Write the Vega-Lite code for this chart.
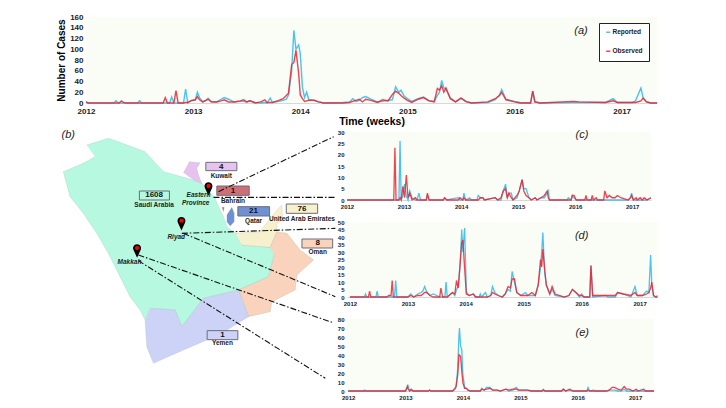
{
"$schema":"https://vega.github.io/schema/vega-lite/v6.json",
"background":"white",
"padding":{"left":56,"top":13,"right":0,"bottom":0},
"bounds":"flush",
"spacing":29,
"config":{"font":"Liberation Sans","range":{"category":["#2bb8ea","#f2202e"]},"axis":{"grid":false,"ticks":false,"domainColor":"#d8d8d8","labelFontWeight":"bold","labelColor":"#222","labelPadding":3,"labelFlush":false},"concat":{"spacing":10}},
"datasets":{
"a":[
{"t":2012.0,"Reported":1,"Observed":2},{"t":2012.02,"Reported":0,"Observed":0},{"t":2012.26,"Reported":0,"Observed":0},{"t":2012.28,"Reported":4,"Observed":0},{"t":2012.3,"Reported":0,"Observed":0},{"t":2012.31,"Reported":0,"Observed":0},{"t":2012.33,"Reported":0,"Observed":4},{"t":2012.35,"Reported":0,"Observed":1},{"t":2012.37,"Reported":0,"Observed":0},{"t":2012.48,"Reported":0,"Observed":0},{"t":2012.5,"Reported":4,"Observed":0},{"t":2012.52,"Reported":0,"Observed":0},{"t":2012.72,"Reported":0,"Observed":0},{"t":2012.74,"Reported":0,"Observed":10},{"t":2012.76,"Reported":0,"Observed":0},{"t":2012.78,"Reported":0,"Observed":0},{"t":2012.8,"Reported":11,"Observed":0},{"t":2012.82,"Reported":0,"Observed":0},{"t":2012.84,"Reported":0,"Observed":23},{"t":2012.86,"Reported":0,"Observed":0},{"t":2012.91,"Reported":0,"Observed":0},{"t":2012.93,"Reported":26,"Observed":1},{"t":2012.95,"Reported":0,"Observed":1},{"t":2012.98,"Reported":5,"Observed":4},{"t":2013.02,"Reported":6,"Observed":6},{"t":2013.04,"Reported":20,"Observed":12},{"t":2013.06,"Reported":10,"Observed":6},{"t":2013.09,"Reported":2,"Observed":2},{"t":2013.12,"Reported":5,"Observed":5},{"t":2013.14,"Reported":9,"Observed":7},{"t":2013.17,"Reported":3,"Observed":2},{"t":2013.22,"Reported":2,"Observed":2},{"t":2013.26,"Reported":7,"Observed":4},{"t":2013.29,"Reported":10,"Observed":6},{"t":2013.33,"Reported":7,"Observed":2},{"t":2013.38,"Reported":2,"Observed":2},{"t":2013.44,"Reported":3,"Observed":4},{"t":2013.47,"Reported":3,"Observed":6},{"t":2013.5,"Reported":2,"Observed":2},{"t":2013.53,"Reported":4,"Observed":4},{"t":2013.58,"Reported":1,"Observed":0},{"t":2013.63,"Reported":0,"Observed":2},{"t":2013.67,"Reported":1,"Observed":6},{"t":2013.69,"Reported":0,"Observed":1},{"t":2013.72,"Reported":9,"Observed":1},{"t":2013.74,"Reported":1,"Observed":1},{"t":2013.8,"Reported":3,"Observed":5},{"t":2013.84,"Reported":5,"Observed":8},{"t":2013.87,"Reported":7,"Observed":14},{"t":2013.89,"Reported":15,"Observed":18},{"t":2013.92,"Reported":60,"Observed":72},{"t":2013.94,"Reported":135,"Observed":75},{"t":2013.96,"Reported":100,"Observed":98},{"t":2013.985,"Reported":108,"Observed":55},{"t":2014.0,"Reported":92,"Observed":15},{"t":2014.02,"Reported":30,"Observed":8},{"t":2014.04,"Reported":10,"Observed":3},{"t":2014.06,"Reported":20,"Observed":4},{"t":2014.08,"Reported":6,"Observed":5},{"t":2014.13,"Reported":5,"Observed":5},{"t":2014.17,"Reported":2,"Observed":2},{"t":2014.22,"Reported":0,"Observed":0},{"t":2014.4,"Reported":1,"Observed":0},{"t":2014.46,"Reported":2,"Observed":1},{"t":2014.49,"Reported":8,"Observed":3},{"t":2014.52,"Reported":3,"Observed":5},{"t":2014.55,"Reported":5,"Observed":7},{"t":2014.58,"Reported":10,"Observed":2},{"t":2014.61,"Reported":12,"Observed":7},{"t":2014.66,"Reported":7,"Observed":5},{"t":2014.72,"Reported":2,"Observed":1},{"t":2014.77,"Reported":3,"Observed":6},{"t":2014.82,"Reported":5,"Observed":4},{"t":2014.86,"Reported":6,"Observed":16},{"t":2014.89,"Reported":30,"Observed":22},{"t":2014.92,"Reported":20,"Observed":18},{"t":2014.94,"Reported":24,"Observed":14},{"t":2014.97,"Reported":13,"Observed":9},{"t":2015.0,"Reported":8,"Observed":5},{"t":2015.04,"Reported":3,"Observed":1},{"t":2015.1,"Reported":8,"Observed":7},{"t":2015.15,"Reported":11,"Observed":10},{"t":2015.2,"Reported":5,"Observed":4},{"t":2015.25,"Reported":3,"Observed":2},{"t":2015.28,"Reported":14,"Observed":27},{"t":2015.3,"Reported":20,"Observed":24},{"t":2015.32,"Reported":42,"Observed":32},{"t":2015.34,"Reported":28,"Observed":20},{"t":2015.36,"Reported":26,"Observed":28},{"t":2015.4,"Reported":10,"Observed":8},{"t":2015.45,"Reported":2,"Observed":2},{"t":2015.5,"Reported":9,"Observed":9},{"t":2015.55,"Reported":3,"Observed":2},{"t":2015.6,"Reported":0,"Observed":0},{"t":2015.75,"Reported":1,"Observed":2},{"t":2015.82,"Reported":6,"Observed":8},{"t":2015.86,"Reported":15,"Observed":14},{"t":2015.88,"Reported":25,"Observed":20},{"t":2015.92,"Reported":7,"Observed":6},{"t":2016.0,"Reported":3,"Observed":2},{"t":2016.05,"Reported":1,"Observed":0},{"t":2016.15,"Reported":0,"Observed":0},{"t":2016.17,"Reported":22,"Observed":22},{"t":2016.19,"Reported":2,"Observed":2},{"t":2016.24,"Reported":0,"Observed":0},{"t":2016.55,"Reported":1,"Observed":3},{"t":2016.6,"Reported":1,"Observed":2},{"t":2016.85,"Reported":1,"Observed":1},{"t":2016.92,"Reported":8,"Observed":4},{"t":2016.96,"Reported":1,"Observed":1},{"t":2017.1,"Reported":1,"Observed":1},{"t":2017.13,"Reported":4,"Observed":1},{"t":2017.18,"Reported":28,"Observed":4},{"t":2017.2,"Reported":10,"Observed":9},{"t":2017.23,"Reported":3,"Observed":2},{"t":2017.27,"Reported":0,"Observed":0},{"t":2017.33,"Reported":0,"Observed":0}],
"c":[
{"t":2012.0,"Reported":0,"Observed":0},{"t":2012.82,"Reported":0,"Observed":0},{"t":2012.84,"Reported":0,"Observed":23},{"t":2012.86,"Reported":0,"Observed":0},{"t":2012.91,"Reported":0,"Observed":0},{"t":2012.93,"Reported":26,"Observed":1},{"t":2012.95,"Reported":0,"Observed":0},{"t":2012.98,"Reported":2,"Observed":6},{"t":2013.01,"Reported":7,"Observed":1},{"t":2013.04,"Reported":2,"Observed":11},{"t":2013.07,"Reported":0,"Observed":1},{"t":2013.1,"Reported":4,"Observed":3},{"t":2013.14,"Reported":1,"Observed":0},{"t":2013.2,"Reported":0,"Observed":1},{"t":2013.23,"Reported":0,"Observed":0},{"t":2013.26,"Reported":3,"Observed":0},{"t":2013.29,"Reported":0,"Observed":0},{"t":2013.39,"Reported":0,"Observed":0},{"t":2013.41,"Reported":2,"Observed":3},{"t":2013.44,"Reported":0,"Observed":0},{"t":2013.69,"Reported":0,"Observed":0},{"t":2013.71,"Reported":1,"Observed":1},{"t":2013.75,"Reported":0,"Observed":0},{"t":2013.95,"Reported":1,"Observed":0},{"t":2013.98,"Reported":0,"Observed":1},{"t":2014.03,"Reported":0,"Observed":0},{"t":2014.05,"Reported":3,"Observed":1},{"t":2014.08,"Reported":0,"Observed":0},{"t":2014.15,"Reported":1,"Observed":0},{"t":2014.18,"Reported":0,"Observed":0},{"t":2014.28,"Reported":0,"Observed":0},{"t":2014.3,"Reported":2,"Observed":0},{"t":2014.34,"Reported":1,"Observed":1},{"t":2014.38,"Reported":1,"Observed":1},{"t":2014.41,"Reported":0,"Observed":0},{"t":2014.6,"Reported":1,"Observed":1},{"t":2014.64,"Reported":0,"Observed":0},{"t":2014.7,"Reported":0,"Observed":1},{"t":2014.74,"Reported":4,"Observed":4},{"t":2014.78,"Reported":7,"Observed":5},{"t":2014.81,"Reported":1,"Observed":1},{"t":2014.84,"Reported":3,"Observed":3},{"t":2014.88,"Reported":3,"Observed":1},{"t":2014.91,"Reported":0,"Observed":0},{"t":2014.98,"Reported":1,"Observed":2},{"t":2015.02,"Reported":4,"Observed":4},{"t":2015.07,"Reported":9,"Observed":9},{"t":2015.1,"Reported":5,"Observed":4},{"t":2015.14,"Reported":5,"Observed":2},{"t":2015.19,"Reported":1,"Observed":1},{"t":2015.23,"Reported":0,"Observed":0},{"t":2015.3,"Reported":1,"Observed":1},{"t":2015.33,"Reported":0,"Observed":0},{"t":2015.4,"Reported":1,"Observed":1},{"t":2015.46,"Reported":1,"Observed":2},{"t":2015.51,"Reported":3,"Observed":4},{"t":2015.53,"Reported":4,"Observed":1},{"t":2015.55,"Reported":0,"Observed":0},{"t":2015.86,"Reported":0,"Observed":0},{"t":2015.88,"Reported":1,"Observed":0},{"t":2015.93,"Reported":0,"Observed":0},{"t":2015.95,"Reported":2,"Observed":2},{"t":2015.98,"Reported":1,"Observed":2},{"t":2016.02,"Reported":0,"Observed":0},{"t":2016.17,"Reported":0,"Observed":0},{"t":2016.19,"Reported":0,"Observed":2},{"t":2016.21,"Reported":0,"Observed":0},{"t":2016.28,"Reported":0,"Observed":0},{"t":2016.3,"Reported":0,"Observed":2},{"t":2016.32,"Reported":0,"Observed":0},{"t":2016.37,"Reported":0,"Observed":1},{"t":2016.39,"Reported":0,"Observed":0},{"t":2016.5,"Reported":0,"Observed":0},{"t":2016.52,"Reported":0,"Observed":4},{"t":2016.56,"Reported":0,"Observed":1},{"t":2016.6,"Reported":0,"Observed":2},{"t":2016.65,"Reported":0,"Observed":1},{"t":2016.7,"Reported":0,"Observed":1},{"t":2016.74,"Reported":0,"Observed":2},{"t":2016.8,"Reported":0,"Observed":1},{"t":2016.93,"Reported":0,"Observed":0},{"t":2016.97,"Reported":1,"Observed":1},{"t":2016.99,"Reported":3,"Observed":2},{"t":2017.02,"Reported":0,"Observed":0},{"t":2017.07,"Reported":0,"Observed":1},{"t":2017.09,"Reported":0,"Observed":0},{"t":2017.14,"Reported":0,"Observed":1},{"t":2017.18,"Reported":0,"Observed":0},{"t":2017.21,"Reported":0,"Observed":1},{"t":2017.26,"Reported":0,"Observed":0},{"t":2017.33,"Reported":1,"Observed":1}],
"d":[
{"t":2012.0,"Reported":0,"Observed":0},{"t":2012.25,"Reported":0,"Observed":0},{"t":2012.27,"Reported":2,"Observed":0},{"t":2012.29,"Reported":0,"Observed":0},{"t":2012.32,"Reported":0,"Observed":0},{"t":2012.34,"Reported":0,"Observed":4},{"t":2012.36,"Reported":0,"Observed":0},{"t":2012.45,"Reported":0,"Observed":0},{"t":2012.47,"Reported":4,"Observed":0},{"t":2012.49,"Reported":0,"Observed":0},{"t":2012.64,"Reported":0,"Observed":0},{"t":2012.67,"Reported":0,"Observed":1},{"t":2012.71,"Reported":0,"Observed":1},{"t":2012.73,"Reported":0,"Observed":11},{"t":2012.75,"Reported":0,"Observed":0},{"t":2012.77,"Reported":0,"Observed":0},{"t":2012.79,"Reported":11,"Observed":0},{"t":2012.81,"Reported":0,"Observed":0},{"t":2013.0,"Reported":0,"Observed":0},{"t":2013.05,"Reported":2,"Observed":1},{"t":2013.1,"Reported":0,"Observed":0},{"t":2013.17,"Reported":2,"Observed":1},{"t":2013.23,"Reported":3,"Observed":1},{"t":2013.26,"Reported":4,"Observed":2},{"t":2013.29,"Reported":7,"Observed":3},{"t":2013.33,"Reported":3,"Observed":3},{"t":2013.38,"Reported":1,"Observed":1},{"t":2013.44,"Reported":2,"Observed":0},{"t":2013.5,"Reported":1,"Observed":0},{"t":2013.55,"Reported":0,"Observed":0},{"t":2013.57,"Reported":0,"Observed":6},{"t":2013.6,"Reported":0,"Observed":0},{"t":2013.64,"Reported":0,"Observed":0},{"t":2013.66,"Reported":10,"Observed":0},{"t":2013.68,"Reported":0,"Observed":0},{"t":2013.74,"Reported":2,"Observed":2},{"t":2013.77,"Reported":3,"Observed":3},{"t":2013.81,"Reported":1,"Observed":2},{"t":2013.84,"Reported":5,"Observed":11},{"t":2013.87,"Reported":7,"Observed":6},{"t":2013.9,"Reported":20,"Observed":21},{"t":2013.93,"Reported":45,"Observed":36},{"t":2013.95,"Reported":30,"Observed":38},{"t":2013.98,"Reported":46,"Observed":19},{"t":2014.01,"Reported":3,"Observed":2},{"t":2014.06,"Reported":1,"Observed":1},{"t":2014.13,"Reported":2,"Observed":2},{"t":2014.17,"Reported":0,"Observed":0},{"t":2014.23,"Reported":0,"Observed":0},{"t":2014.25,"Reported":2,"Observed":0},{"t":2014.27,"Reported":0,"Observed":0},{"t":2014.34,"Reported":3,"Observed":0},{"t":2014.37,"Reported":0,"Observed":0},{"t":2014.43,"Reported":1,"Observed":1},{"t":2014.46,"Reported":7,"Observed":3},{"t":2014.5,"Reported":3,"Observed":2},{"t":2014.56,"Reported":1,"Observed":1},{"t":2014.63,"Reported":0,"Observed":0},{"t":2014.68,"Reported":2,"Observed":2},{"t":2014.73,"Reported":5,"Observed":7},{"t":2014.77,"Reported":4,"Observed":6},{"t":2014.8,"Reported":17,"Observed":12},{"t":2014.84,"Reported":10,"Observed":12},{"t":2014.88,"Reported":3,"Observed":3},{"t":2014.95,"Reported":1,"Observed":1},{"t":2015.03,"Reported":3,"Observed":1},{"t":2015.07,"Reported":1,"Observed":1},{"t":2015.14,"Reported":1,"Observed":3},{"t":2015.2,"Reported":1,"Observed":1},{"t":2015.25,"Reported":8,"Observed":8},{"t":2015.29,"Reported":20,"Observed":25},{"t":2015.31,"Reported":30,"Observed":20},{"t":2015.33,"Reported":43,"Observed":32},{"t":2015.36,"Reported":17,"Observed":19},{"t":2015.39,"Reported":8,"Observed":8},{"t":2015.45,"Reported":2,"Observed":2},{"t":2015.49,"Reported":5,"Observed":7},{"t":2015.54,"Reported":1,"Observed":2},{"t":2015.7,"Reported":0,"Observed":0},{"t":2015.78,"Reported":1,"Observed":1},{"t":2015.84,"Reported":5,"Observed":5},{"t":2015.9,"Reported":3,"Observed":3},{"t":2015.96,"Reported":0,"Observed":1},{"t":2016.0,"Reported":2,"Observed":1},{"t":2016.04,"Reported":0,"Observed":0},{"t":2016.14,"Reported":0,"Observed":0},{"t":2016.16,"Reported":21,"Observed":21},{"t":2016.19,"Reported":0,"Observed":1},{"t":2016.42,"Reported":1,"Observed":1},{"t":2016.45,"Reported":0,"Observed":1},{"t":2016.58,"Reported":0,"Observed":1},{"t":2016.62,"Reported":3,"Observed":3},{"t":2016.72,"Reported":2,"Observed":2},{"t":2016.85,"Reported":0,"Observed":1},{"t":2016.92,"Reported":7,"Observed":3},{"t":2016.96,"Reported":1,"Observed":1},{"t":2017.05,"Reported":1,"Observed":1},{"t":2017.12,"Reported":4,"Observed":2},{"t":2017.16,"Reported":3,"Observed":3},{"t":2017.19,"Reported":28,"Observed":6},{"t":2017.21,"Reported":8,"Observed":10},{"t":2017.24,"Reported":1,"Observed":1},{"t":2017.28,"Reported":0,"Observed":0},{"t":2017.31,"Reported":1,"Observed":0}],
"e":[
{"t":2012.0,"Reported":0,"Observed":0},{"t":2012.27,"Reported":0,"Observed":0},{"t":2012.29,"Reported":1,"Observed":0},{"t":2012.31,"Reported":0,"Observed":0},{"t":2013.0,"Reported":0,"Observed":0},{"t":2013.03,"Reported":3,"Observed":5},{"t":2013.04,"Reported":7,"Observed":3},{"t":2013.07,"Reported":0,"Observed":0},{"t":2013.1,"Reported":1,"Observed":2},{"t":2013.13,"Reported":0,"Observed":0},{"t":2013.4,"Reported":0,"Observed":0},{"t":2013.42,"Reported":1,"Observed":1},{"t":2013.44,"Reported":0,"Observed":0},{"t":2013.82,"Reported":0,"Observed":0},{"t":2013.86,"Reported":2,"Observed":3},{"t":2013.88,"Reported":4,"Observed":5},{"t":2013.91,"Reported":25,"Observed":18},{"t":2013.93,"Reported":60,"Observed":40},{"t":2013.94,"Reported":70,"Observed":40},{"t":2013.96,"Reported":50,"Observed":38},{"t":2013.98,"Reported":46,"Observed":22},{"t":2014.0,"Reported":18,"Observed":9},{"t":2014.03,"Reported":4,"Observed":3},{"t":2014.06,"Reported":3,"Observed":3},{"t":2014.09,"Reported":1,"Observed":1},{"t":2014.13,"Reported":0,"Observed":0},{"t":2014.3,"Reported":0,"Observed":0},{"t":2014.33,"Reported":3,"Observed":2},{"t":2014.37,"Reported":1,"Observed":1},{"t":2014.41,"Reported":4,"Observed":2},{"t":2014.47,"Reported":4,"Observed":3},{"t":2014.52,"Reported":1,"Observed":1},{"t":2014.6,"Reported":1,"Observed":1},{"t":2014.65,"Reported":0,"Observed":0},{"t":2014.75,"Reported":2,"Observed":2},{"t":2014.8,"Reported":0,"Observed":1},{"t":2014.87,"Reported":1,"Observed":2},{"t":2014.93,"Reported":4,"Observed":2},{"t":2014.97,"Reported":1,"Observed":1},{"t":2015.05,"Reported":1,"Observed":1},{"t":2015.12,"Reported":1,"Observed":1},{"t":2015.2,"Reported":0,"Observed":0},{"t":2015.38,"Reported":0,"Observed":0},{"t":2015.4,"Reported":2,"Observed":1},{"t":2015.43,"Reported":0,"Observed":0},{"t":2015.72,"Reported":0,"Observed":0},{"t":2015.75,"Reported":2,"Observed":2},{"t":2015.79,"Reported":0,"Observed":0},{"t":2015.86,"Reported":1,"Observed":2},{"t":2015.92,"Reported":0,"Observed":0},{"t":2016.16,"Reported":0,"Observed":0},{"t":2016.18,"Reported":4,"Observed":1},{"t":2016.21,"Reported":0,"Observed":0},{"t":2016.28,"Reported":1,"Observed":0},{"t":2016.31,"Reported":0,"Observed":0},{"t":2016.5,"Reported":0,"Observed":0},{"t":2016.55,"Reported":1,"Observed":1},{"t":2016.6,"Reported":1,"Observed":4},{"t":2016.64,"Reported":1,"Observed":4},{"t":2016.7,"Reported":0,"Observed":2},{"t":2016.76,"Reported":0,"Observed":1},{"t":2016.81,"Reported":2,"Observed":5},{"t":2016.85,"Reported":0,"Observed":2},{"t":2016.9,"Reported":0,"Observed":2},{"t":2016.96,"Reported":0,"Observed":0},{"t":2017.02,"Reported":0,"Observed":2},{"t":2017.05,"Reported":0,"Observed":0},{"t":2017.15,"Reported":0,"Observed":2},{"t":2017.18,"Reported":0,"Observed":0},{"t":2017.33,"Reported":0,"Observed":0}],
"regions":[
{"country":"Saudi Arabia","lon":35.3,"lat":32.125},{"country":"Saudi Arabia","lon":37.25,"lat":32.625},{"country":"Saudi Arabia","lon":38.15,"lat":32.375},{"country":"Saudi Arabia","lon":40.55,"lat":31.625},{"country":"Saudi Arabia","lon":42.2,"lat":30.125},{"country":"Saudi Arabia","lon":44.9,"lat":29.5},{"country":"Saudi Arabia","lon":45.65,"lat":29.25},{"country":"Saudi Arabia","lon":46.1,"lat":28.875},{"country":"Saudi Arabia","lon":46.85,"lat":28.125},{"country":"Saudi Arabia","lon":47.15,"lat":27.5},{"country":"Saudi Arabia","lon":47.6,"lat":26.75},{"country":"Saudi Arabia","lon":47.9,"lat":26},{"country":"Saudi Arabia","lon":48.65,"lat":25.5},{"country":"Saudi Arabia","lon":49.25,"lat":24.625},{"country":"Saudi Arabia","lon":51.8,"lat":24.45},{"country":"Saudi Arabia","lon":52.16,"lat":23.875},{"country":"Saudi Arabia","lon":51.65,"lat":22.25},{"country":"Saudi Arabia","lon":48.95,"lat":21.25},{"country":"Saudi Arabia","lon":45.8,"lat":20.625},{"country":"Saudi Arabia","lon":43.85,"lat":18.5},{"country":"Saudi Arabia","lon":43.25,"lat":19.75},{"country":"Saudi Arabia","lon":41,"lat":19.875},{"country":"Saudi Arabia","lon":40.55,"lat":19},{"country":"Saudi Arabia","lon":40.1,"lat":19.75},{"country":"Saudi Arabia","lon":39.2,"lat":20.75},{"country":"Saudi Arabia","lon":38.3,"lat":22.25},{"country":"Saudi Arabia","lon":37.25,"lat":24},{"country":"Saudi Arabia","lon":36.2,"lat":25.5},{"country":"Saudi Arabia","lon":35,"lat":27},{"country":"Saudi Arabia","lon":33.8,"lat":28.25},{"country":"Saudi Arabia","lon":33.2,"lat":30.125},{"country":"Saudi Arabia","lon":35,"lat":30.75},{"country":"Saudi Arabia","lon":36.05,"lat":31.25},
{"country":"Kuwait","lon":44,"lat":30.05},{"country":"Kuwait","lon":44.54,"lat":30.875},{"country":"Kuwait","lon":45.5,"lat":30.8},{"country":"Kuwait","lon":45.2,"lat":30.375},{"country":"Kuwait","lon":45.35,"lat":29.875},{"country":"Kuwait","lon":45.65,"lat":29.25},{"country":"Kuwait","lon":44.9,"lat":29.5},
{"country":"United Arab Emirates","lon":48.65,"lat":25.5},{"country":"United Arab Emirates","lon":50.9,"lat":25.625},{"country":"United Arab Emirates","lon":51.8,"lat":26.625},{"country":"United Arab Emirates","lon":52.55,"lat":27.375},{"country":"United Arab Emirates","lon":52.85,"lat":27.625},{"country":"United Arab Emirates","lon":52.91,"lat":26.5},{"country":"United Arab Emirates","lon":52.4,"lat":26.25},{"country":"United Arab Emirates","lon":52.4,"lat":25.625},{"country":"United Arab Emirates","lon":51.8,"lat":24.45},{"country":"United Arab Emirates","lon":49.25,"lat":24.625},
{"country":"Oman","lon":51.8,"lat":24.45},{"country":"Oman","lon":52.4,"lat":25.625},{"country":"Oman","lon":53.3,"lat":25.5},{"country":"Oman","lon":54.5,"lat":24.25},{"country":"Oman","lon":55.7,"lat":23.5},{"country":"Oman","lon":54.2,"lat":22.375},{"country":"Oman","lon":54.05,"lat":21.25},{"country":"Oman","lon":51.95,"lat":20.375},{"country":"Oman","lon":51.8,"lat":19.625},{"country":"Oman","lon":49.85,"lat":19.25},{"country":"Oman","lon":48.95,"lat":21.25},{"country":"Oman","lon":51.65,"lat":22.25},{"country":"Oman","lon":52.16,"lat":23.875},
{"country":"Yemen","lon":41,"lat":19.875},{"country":"Yemen","lon":43.25,"lat":19.75},{"country":"Yemen","lon":43.85,"lat":18.5},{"country":"Yemen","lon":45.8,"lat":20.625},{"country":"Yemen","lon":48.95,"lat":21.25},{"country":"Yemen","lon":49.85,"lat":19.25},{"country":"Yemen","lon":47.9,"lat":18.25},{"country":"Yemen","lon":46.1,"lat":17.5},{"country":"Yemen","lon":44,"lat":16.75},{"country":"Yemen","lon":41.3,"lat":15.75},{"country":"Yemen","lon":40.7,"lat":17},{"country":"Yemen","lon":40.55,"lat":19},
{"country":"Qatar","lon":47.9,"lat":26.875},{"country":"Qatar","lon":48.35,"lat":27.45},{"country":"Qatar","lon":48.56,"lat":27},{"country":"Qatar","lon":48.56,"lat":26.375},{"country":"Qatar","lon":48.2,"lat":26.05},{"country":"Qatar","lon":47.9,"lat":26.375},
{"country":"Bahrain","lon":47.45,"lat":27.45},{"country":"Bahrain","lon":47.66,"lat":27.45},{"country":"Bahrain","lon":47.6,"lat":27.125}],
"boxes":[
{"country":"Kuwait","cases":4,"lon1":46.01,"lon2":48.8,"lat1":30.825,"lat2":30.2,"clon":47.4,"clat":30.5,"nlat":29.825},
{"country":"Saudi Arabia","cases":1608,"lon1":40.04,"lon2":42.74,"lat1":28.675,"lat2":28,"clon":41.36,"clat":28.34,"nlat":27.625},
{"country":"Bahrain","cases":1,"lon1":47,"lon2":49.91,"lat1":29.05,"lat2":28.35,"clon":48.45,"clat":28.7,"nlat":27.925},
{"country":"Qatar","cases":21,"lon1":48.89,"lon2":51.74,"lat1":27.5,"lat2":26.8,"clon":50.3,"clat":27.15,"nlat":26.45},
{"country":"United Arab Emirates","cases":76,"lon1":53.24,"lon2":56.06,"lat1":27.7,"lat2":27,"clon":54.65,"clat":27.35,"nlat":26.6},
{"country":"Oman","cases":8,"lon1":54.65,"lon2":57.41,"lat1":25.075,"lat2":24.4,"clon":56.06,"clat":24.75,"nlat":24.1},
{"country":"Yemen","cases":1,"lon1":46.13,"lon2":48.89,"lat1":18.2,"lat2":17.525,"clon":47.5,"clat":17.87,"nlat":17.25}],
"links":[
{"link":"eastern-c","lon":47.15,"lat":28.625},{"link":"eastern-c","lon":57.5,"lat":32.75},
{"link":"eastern-flat","lon":46.7,"lat":28.2},{"link":"eastern-flat","lon":57.65,"lat":28.2},
{"link":"riyad-d","lon":43.85,"lat":25.5},{"link":"riyad-d","lon":57.65,"lat":25.875},
{"link":"riyad-low","lon":44,"lat":25.5},{"link":"riyad-low","lon":57.65,"lat":20.75},
{"link":"makkah-up","lon":39.95,"lat":23.875},{"link":"makkah-up","lon":57.35,"lat":18.825},
{"link":"makkah-low","lon":39.95,"lat":23.45},{"link":"makkah-low","lon":56.75,"lat":14.625}],
"pins":[{"name":"Eastern Province","lon":46.25,"lat":28.85},{"name":"Riyad","lon":43.82,"lat":26.25},{"name":"Makkah","lon":39.83,"lat":24.2},
{"name":"(b)","lon":33.65,"lat":32.875}],
"places":[{"name":"Eastern","lon":45.35,"lat":28.4},{"name":"Province","lon":45.1,"lat":27.8},{"name":"Riyad","lon":43.35,"lat":25.2},{"name":"Makkah","lon":39.15,"lat":23.33}]
},
"vconcat":[
{"width":571,"height":86,"view":{"fill":"#fafcf6","stroke":null},"data":{"name":"a"},"transform":[{"fold":["Reported","Observed"],"as":["series","n"]}],
"encoding":{"x":{"field":"t","type":"quantitative","scale":{"domain":[2012,2017.33],"nice":false,"zero":false},"axis":{"values":[2012,2013,2014,2015,2016,2017],"format":"d","labelFontSize":8,"labelPadding":4,"title":"Time (weeks)","titleFontSize":10.5,"titleFontWeight":"bold","titlePadding":1}},"y":{"field":"n","type":"quantitative","scale":{"domain":[0,160],"nice":false},"axis":{"values":[0,20,40,60,80,100,120,140,160],"labelFontSize":8,"title":"Number of Cases","titleFontSize":10,"titleFontWeight":"bold","titlePadding":3,"domain":false}}},
"layer":[
{"mark":{"type":"line","strokeWidth":1.4,"opacity":0.85},"encoding":{"color":{"field":"series","type":"nominal","scale":{"domain":["Reported","Observed"]},"legend":{"orient":"none","legendX":513,"legendY":6,"title":null,"symbolType":"stroke","symbolSize":16,"symbolStrokeWidth":1.5,"labelFontSize":6.5,"labelFontWeight":"bold","labelColor":"#222","labelOffset":1,"rowPadding":12,"padding":6,"strokeColor":"#222","fillColor":"white"}}}},
{"data":{"values":[{"t":2016.62,"n":134,"label":"(a)"}]},"transform":[],"mark":{"type":"text","fontStyle":"italic","fontSize":11,"font":"Liberation Sans","color":"#222"},"encoding":{"text":{"field":"label"}}}]},
{"hconcat":[
{"width":251,"height":256,"view":{"fill":null,"stroke":null},
"encoding":{"x":{"field":"lon","type":"quantitative","scale":{"domain":[35.24,57.8],"nice":false,"zero":false},"axis":null},"y":{"field":"lat","type":"quantitative","scale":{"domain":[13.9,33.1],"nice":false,"zero":false},"axis":null}},
"layer":[
{"data":{"name":"regions"},"mark":{"type":"line","strokeWidth":0.4,"strokeOpacity":0.5},"encoding":{"order":{"value":null},"fill":{"field":"country","type":"nominal","legend":null,"scale":{"domain":["Saudi Arabia","Kuwait","United Arab Emirates","Oman","Yemen","Qatar","Bahrain"],"range":["#b6f8e0","#e6c3ef","#f6f0cc","#f9d3bc","#ccd3f6","#6f90d2","#cf6f75"]}},"color":{"value":"#8aa"}}},
{"data":{"name":"boxes"},"mark":{"type":"rect","strokeWidth":1,"stroke":"#6d6d78"},"encoding":{"x":{"field":"lon1"},"x2":{"field":"lon2"},"y":{"field":"lat1"},"y2":{"field":"lat2"},"fill":{"field":"country","type":"nominal","legend":null,"scale":{"domain":["Saudi Arabia","Kuwait","United Arab Emirates","Oman","Yemen","Qatar","Bahrain"],"range":["#ffffff","#e6c3ef","#f6f0cc","#f9d3bc","#ccd3f6","#6f90d2","#cf6f75"]}}}},
{"data":{"name":"boxes"},"mark":{"type":"text","fontSize":8,"fontWeight":"bold","color":"#111"},"encoding":{"x":{"field":"clon"},"y":{"field":"clat"},"text":{"field":"cases"}}},
{"data":{"name":"boxes"},"mark":{"type":"text","fontSize":6.5,"fontWeight":"bold","color":"#222"},"encoding":{"x":{"field":"clon"},"y":{"field":"nlat"},"text":{"field":"country"}}},
{"data":{"name":"links"},"mark":{"type":"line","strokeWidth":1.1,"color":"#111","strokeDash":[6,2,1.5,2]},"encoding":{"detail":{"field":"link"},"order":{"value":null}}},
{"data":{"name":"pins"},"transform":[{"filter":"datum.name!='(b)'"}],"mark":{"type":"point","filled":true,"opacity":1,"color":"#000","size":200,"shape":"M0,1 L-0.5,-0.1 A0.56,0.56 0 1 1 0.5,-0.1 Z"}},
{"data":{"name":"pins"},"transform":[{"filter":"datum.name!='(b)'"}],"mark":{"type":"point","filled":true,"opacity":1,"color":"#f00000","size":200,"shape":"M-0.3,-0.38 A0.3,0.3 0 1 1 0.3,-0.38 A0.3,0.3 0 1 1 -0.3,-0.38 Z"}},
{"data":{"name":"places"},"mark":{"type":"text","fontSize":6.5,"fontWeight":"bold","fontStyle":"italic","color":"#222"},"encoding":{"text":{"field":"name"}}},
{"data":{"name":"pins"},"transform":[{"filter":"datum.name=='(b)'"}],"mark":{"type":"text","fontSize":11,"fontStyle":"italic","color":"#222"},"encoding":{"text":{"field":"name"}}}
]},
{"bounds":"flush","spacing":22,"vconcat":[
{"width":304,"height":68,"view":{"fill":"#fafcf6","stroke":null},"data":{"name":"c"},"transform":[{"fold":["Reported","Observed"],"as":["series","n"]}],
"encoding":{"x":{"field":"t","type":"quantitative","scale":{"domain":[2012,2017.33],"nice":false,"zero":false},"axis":{"values":[2012,2013,2014,2015,2016,2017],"format":"d","labelFontSize":6,"title":null}},"y":{"field":"n","type":"quantitative","scale":{"domain":[0,30],"nice":false},"axis":{"values":[0,5,10,15,20,25,30],"labelFontSize":6,"title":null,"domain":false}}},
"layer":[{"mark":{"type":"line","strokeWidth":1.3,"opacity":0.85},"encoding":{"color":{"field":"series","type":"nominal","scale":{"domain":["Reported","Observed"]},"legend":null}}},
{"data":{"values":[{"t":2016.12,"n":28.7,"label":"(c)"}]},"transform":[],"mark":{"type":"text","fontStyle":"italic","fontSize":11,"color":"#222"},"encoding":{"text":{"field":"label"}}}]},
{"width":310,"height":75,"view":{"fill":"#fafcf6","stroke":null},"data":{"name":"d"},"transform":[{"fold":["Reported","Observed"],"as":["series","n"]}],
"encoding":{"x":{"field":"t","type":"quantitative","scale":{"domain":[2011.95,2017.3],"nice":false,"zero":false},"axis":{"values":[2012,2013,2014,2015,2016,2017],"format":"d","labelFontSize":6,"title":null}},"y":{"field":"n","type":"quantitative","scale":{"domain":[0,50],"nice":false},"axis":{"values":[0,5,10,15,20,25,30,35,40,45,50],"labelFontSize":6,"title":null,"domain":false}}},
"layer":[{"mark":{"type":"line","strokeWidth":1.3,"opacity":0.85},"encoding":{"color":{"field":"series","type":"nominal","scale":{"domain":["Reported","Observed"]},"legend":null}}},
{"data":{"values":[{"t":2016.0,"n":41,"label":"(d)"}]},"transform":[],"mark":{"type":"text","fontStyle":"italic","fontSize":11,"color":"#222"},"encoding":{"text":{"field":"label"}}}]},
{"width":307,"height":72,"view":{"fill":"#fafcf6","stroke":null},"data":{"name":"e"},"transform":[{"fold":["Reported","Observed"],"as":["series","n"]}],
"encoding":{"x":{"field":"t","type":"quantitative","scale":{"domain":[2011.98,2017.33],"nice":false,"zero":false},"axis":{"values":[2012,2013,2014,2015,2016,2017],"format":"d","labelFontSize":6,"title":null}},"y":{"field":"n","type":"quantitative","scale":{"domain":[0,80],"nice":false},"axis":{"values":[0,10,20,30,40,50,60,70,80],"labelFontSize":6,"title":null,"domain":false}}},
"layer":[{"mark":{"type":"line","strokeWidth":1.3,"opacity":0.85},"encoding":{"color":{"field":"series","type":"nominal","scale":{"domain":["Reported","Observed"]},"legend":null}}},
{"data":{"values":[{"t":2016.08,"n":64,"label":"(e)"}]},"transform":[],"mark":{"type":"text","fontStyle":"italic","fontSize":11,"color":"#222"},"encoding":{"text":{"field":"label"}}}]}
]}
],"bounds":"flush","spacing":10}
]
}
